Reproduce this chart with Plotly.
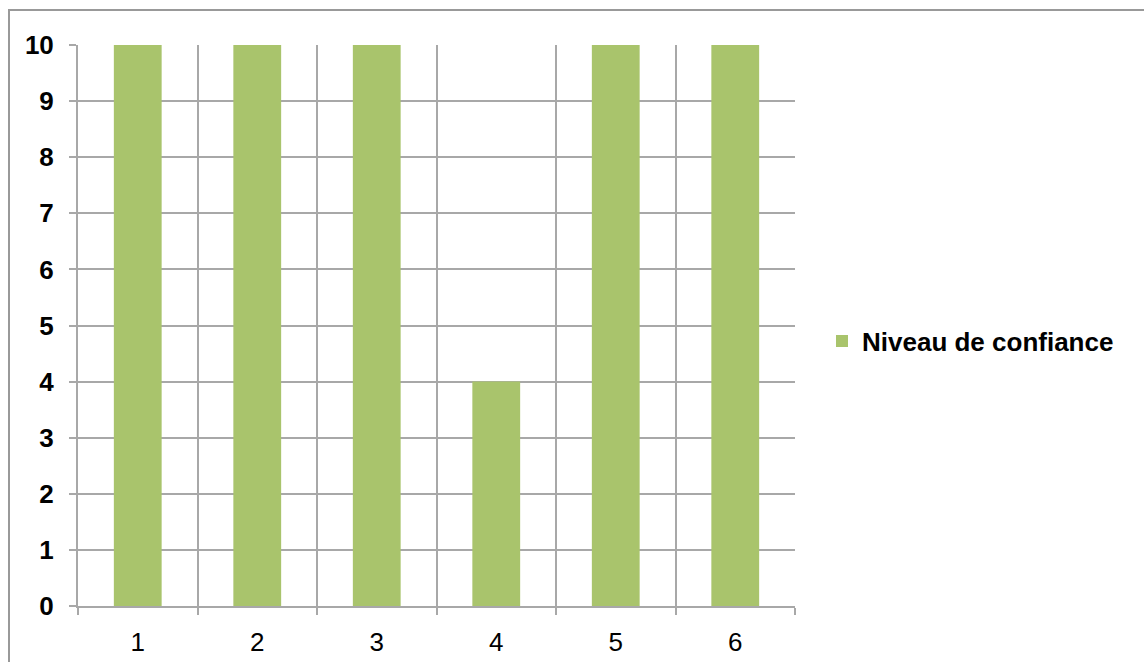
import plotly.graph_objects as go

categories = [1, 2, 3, 4, 5, 6]
values = [10, 10, 10, 4, 10, 10]
tick_labels = ["1", "2", "3", "4", "5", "6"]
series_name = "Niveau de confiance"

W, H = 1144, 662
ml, mr, mt, mb = 78, 349, 45, 56
pw, ph = W - ml - mr, H - mt - mb

grid = "#A8A8A8"
FONT = "Liberation Sans, Arial, sans-serif"
fig = go.Figure(go.Bar(x=categories, y=values, name=series_name,
                       marker=dict(color="#A9C46C", line=dict(width=0)),
                       showlegend=True))

fig.update_layout(
    width=W, height=H,
    margin=dict(l=ml, r=mr, t=mt, b=mb, autoexpand=False),
    paper_bgcolor="white", plot_bgcolor="white",
    bargap=0.6,
    font=dict(family=FONT, color="black", size=26),
    showlegend=True,
    legend=dict(x=(822 - ml) / pw, y=(mt + ph - 341) / ph, xanchor="left", yanchor="middle",
                font=dict(size=26, family=FONT, weight="bold"),
                itemwidth=30, bgcolor="rgba(0,0,0,0)"),
    xaxis=dict(range=[0.5, 6.5], tickvals=categories, ticktext=tick_labels,
               showgrid=False, ticks="", tickfont=dict(size=26, family=FONT),
               showline=True, linecolor=grid, linewidth=2, ticklabelstandoff=12,
               automargin=False,
               minor=dict(tickvals=[0.5, 1.5, 2.5, 3.5, 4.5, 5.5, 6.5], showgrid=True,
                          gridcolor=grid, gridwidth=2, ticks="outside", ticklen=7,
                          tickcolor=grid, tickwidth=2),
               zeroline=False, fixedrange=True),
    yaxis=dict(range=[0, 10], tickvals=list(range(0, 11)), showgrid=True,
               gridcolor=grid, gridwidth=2, ticks="outside", ticklen=7,
               tickcolor=grid, tickwidth=2, showline=True, linecolor=grid, linewidth=2,
               tickfont=dict(size=26, family=FONT, weight="bold"), zeroline=False,
               ticklabelstandoff=10, automargin=False),
    shapes=[dict(type="rect", xref="paper", yref="paper",
                 x0=(9 - ml) / pw, x1=(W + 20 - ml) / pw,
                 y0=(mt + ph - 10) / ph, y1=(mt + ph - (H + 20)) / ph,
                 line=dict(color="#999999", width=2), layer="below")],
)

fig.write_html("out.html")
